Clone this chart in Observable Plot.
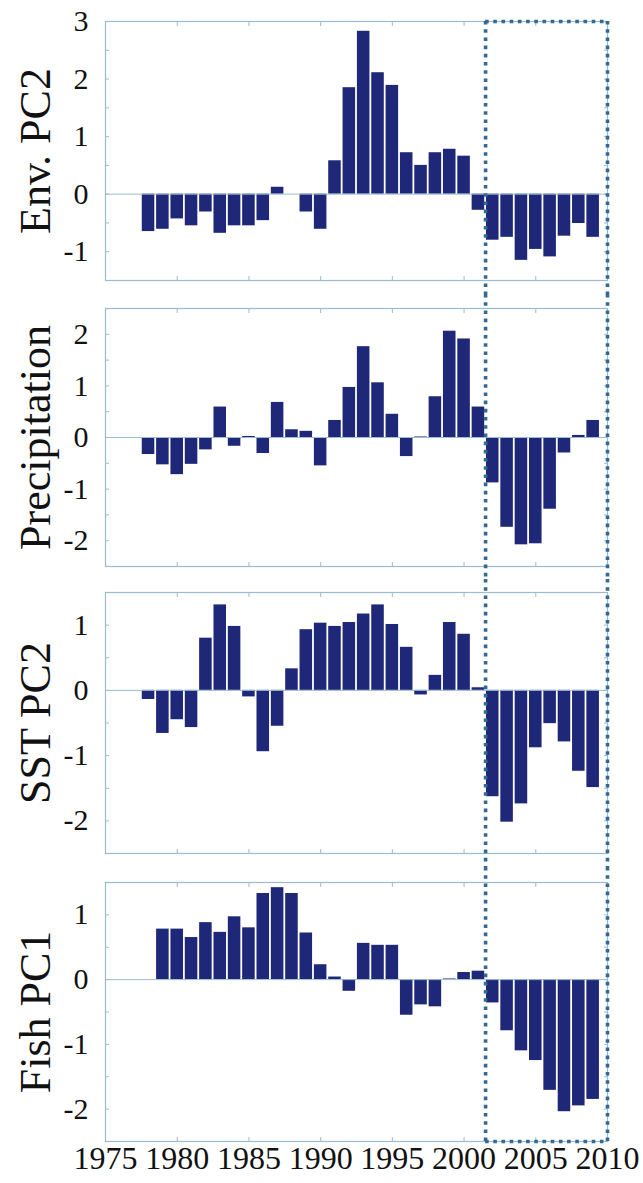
<!DOCTYPE html>
<html>
<head>
<meta charset="utf-8">
<script src="https://cdn.jsdelivr.net/npm/d3@7"></script>
<script src="https://cdn.jsdelivr.net/npm/@observablehq/plot@0.6"></script>
<style>
  html, body { margin: 0; padding: 0; background: #fff; }
  #chart svg { display: block; overflow: visible; }
</style>
</head>
<body>
<div id="chart"></div>
<script>
// ---- Data ----
const years = [1978,1979,1980,1981,1982,1983,1984,1985,1986,1987,1988,1989,1990,1991,1992,1993,1994,1995,1996,1997,1998,1999,2000,2001,2002,2003,2004,2005,2006,2007,2008,2009];

const envPC2 = [-0.65,-0.61,-0.43,-0.55,-0.31,-0.68,-0.55,-0.55,-0.46,0.12,null,-0.31,-0.61,0.58,1.85,2.83,2.11,1.89,0.72,0.50,0.72,0.78,0.66,-0.28,-0.80,-0.75,-1.15,-0.96,-1.09,-0.73,-0.51,-0.75];
const precipitation = [-0.33,-0.53,-0.72,-0.52,-0.24,0.59,-0.17,0.02,-0.31,0.68,0.15,0.12,-0.55,0.33,0.97,1.76,1.06,0.45,-0.37,0.01,0.79,2.06,1.91,0.59,-0.88,-1.74,-2.08,-2.06,-1.39,-0.30,0.04,0.33];
const sstPC2 = [-0.14,-0.66,-0.45,-0.57,0.80,1.31,0.98,-0.10,-0.94,-0.55,0.33,0.93,1.03,0.98,1.04,1.17,1.31,1.01,0.66,-0.07,0.23,1.04,0.86,0.04,-1.63,-2.02,-1.74,-0.88,-0.51,-0.79,-1.24,-1.49];
const fishPC1 = [null,0.78,0.78,0.65,0.88,0.73,0.97,0.80,1.33,1.42,1.33,0.72,0.23,0.04,-0.18,0.56,0.53,0.53,-0.55,-0.39,-0.42,0.01,0.11,0.13,-0.36,-0.79,-1.10,-1.25,-1.71,-2.04,-1.95,-1.85];

const panelLabels = ["Env. PC2", "Precipitation", "SST PC2", "Fish PC1"];
const yDomains = [[-1.5, 3], [-2.5, 2.5], [-2.5, 1.5], [-2.5, 1.5]];
const yMajorTicks = [[-1,0,1,2,3], [-2,-1,0,1,2], [-2,-1,0,1], [-2,-1,0,1]];
const yMinorTicks = [
  [-1.5,-1,-0.5,0,0.5,1,1.5,2,2.5,3],
  [-2.5,-2,-1.5,-1,-0.5,0,0.5,1,1.5,2,2.5],
  [-2.5,-2,-1.5,-1,-0.5,0,0.5,1,1.5],
  [-2.5,-2,-1.5,-1,-0.5,0,0.5,1,1.5]
];
const xTicks = [1975,1980,1985,1990,1995,2000,2005,2010];
const xDomain = [1975, 2010];
const highlight = [2001.5, 2010]; // dotted box years

// ---- Styles ----
const barColor = "#1f2878";
const frameColor = "#9bbcd0";
const dotColor = "#336a93";
const serif = "'Liberation Serif', 'Times New Roman', serif";

// layout per panel: [height, marginTop, marginBottom]
const layout = [[294, 21, 14], [285, 14, 13], [288, 13, 14], [316, 15, 42]];
const series = [envPC2, precipitation, sstPC2, fishPC1];

const chart = document.getElementById("chart");

series.forEach((values, p) => {
  const [height, mt, mb] = layout[p];
  const first = p === 0, last = p === series.length - 1;
  const data = years.map((year, i) => ({year, value: values[i]})).filter(d => d.value != null);
  const domain = yDomains[p];
  const dotStyle = {stroke: dotColor, strokeWidth: 3.6, strokeDasharray: "3.6,4.6"};

  const marks = [
    Plot.rectY(data, {x1: d => d.year - 0.5, x2: d => d.year + 0.5, y: "value", fill: barColor, insetLeft: 0.9, insetRight: 0.9}),
    Plot.ruleY([0], {stroke: frameColor, strokeWidth: 1}),
    Plot.frame({stroke: frameColor, strokeWidth: 1.2}),
    // inward minor ticks, left and right
    Plot.axisY(yMinorTicks[p], {anchor: "left", tickSize: -4, tickFormat: () => "", stroke: frameColor, label: null}),
    Plot.axisY(yMinorTicks[p], {anchor: "right", tickSize: -4, tickFormat: () => "", stroke: frameColor, label: null}),
    // integer labels
    Plot.axisY(yMajorTicks[p], {anchor: "left", tickSize: 0, tickPadding: 17, fontSize: 30, fill: "#111", tickFormat: d => String(d), label: null}),
    // inward x ticks, top and bottom
    Plot.axisX(xTicks, {anchor: "top", tickSize: -4, tickFormat: () => "", stroke: frameColor, label: null}),
    Plot.axisX(xTicks, {anchor: "bottom", tickSize: -4, tickFormat: () => "", stroke: frameColor, label: null}),
    // panel title
    Plot.text([panelLabels[p]], {frameAnchor: "left", textAnchor: "middle", lineAnchor: "middle", rotate: -90, dx: -70, fontSize: 44, fill: "#111"}),
    // dotted highlight box
    Plot.ruleX(highlight, {...dotStyle, insetTop: first ? 0 : -mt, insetBottom: last ? 0 : -mb})
  ];
  if (first) marks.push(Plot.ruleY([domain[1]], {x1: highlight[0], x2: highlight[1], ...dotStyle}));
  if (last) {
    marks.push(Plot.ruleY([domain[0]], {x1: highlight[0], x2: highlight[1], ...dotStyle}));
    marks.push(Plot.axisX(xTicks, {anchor: "bottom", tickSize: 0, tickPadding: 5, fontSize: 32, fill: "#111", tickFormat: d => String(d), label: null}));
  }

  const svg = Plot.plot({
    width: 643,
    height,
    marginLeft: 105,
    marginRight: 36,
    marginTop: mt,
    marginBottom: mb,
    style: {fontFamily: serif, background: "transparent", overflow: "visible"},
    x: {domain: xDomain},
    y: {domain},
    marks
  });
  chart.appendChild(svg);
});
</script>
</body>
</html>
